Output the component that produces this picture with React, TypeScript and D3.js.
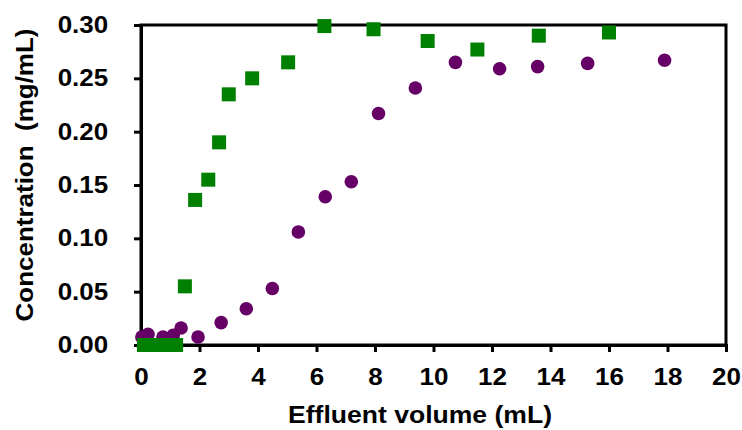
import React, { useRef, useEffect } from "react";
import * as d3 from "d3";

// purple circles
const circleX = [0.03, 0.24, 0.75, 1.1, 1.37, 1.95, 2.74, 3.6, 4.49, 5.38, 6.3, 7.19, 8.12, 9.38, 10.75, 12.26, 13.56, 15.27, 17.9];
const circleY = [0.0075, 0.01, 0.0075, 0.009, 0.016, 0.0075, 0.021, 0.034, 0.053, 0.106, 0.139, 0.153, 0.217, 0.241, 0.265, 0.259, 0.261, 0.264, 0.267];

// green squares
const squareX = [0.1, 0.3, 0.5, 0.7, 0.9, 1.1, 1.2, 1.5, 1.85, 2.3, 2.67, 3.0, 3.8, 5.03, 6.27, 7.95, 9.8, 11.5, 13.6, 16.0];
const squareY = [0, 0, 0, 0, 0, 0, 0, 0.055, 0.136, 0.155, 0.19, 0.235, 0.25, 0.265, 0.299, 0.296, 0.285, 0.277, 0.29, 0.293];

const xTicks = [0, 2, 4, 6, 8, 10, 12, 14, 16, 18, 20];
const yTicks = [0, 0.05, 0.1, 0.15, 0.2, 0.25, 0.3];

const W = 742;
const H = 430;
const margin = { top: 25, right: 16, bottom: 85, left: 141 };

const App = () => {
  const svgRef = useRef<SVGSVGElement>(null);

  useEffect(() => {
    document.body.style.margin = "0";
    const svg = d3.select(svgRef.current);
    svg.selectAll("*").remove();

    const x = d3.scaleLinear().domain([0, 20]).range([margin.left, W - margin.right]);
    const y = d3.scaleLinear().domain([0, 0.3]).range([H - margin.bottom, margin.top]);

    const font = "'Liberation Sans', Arial, sans-serif";
    const stretch = "scale(1.13,1)"; // text in the original is a bit wide

    // plot box
    svg.append("rect")
      .attr("x", x(0))
      .attr("y", y(0.3))
      .attr("width", x(20) - x(0))
      .attr("height", y(0) - y(0.3))
      .attr("fill", "none")
      .attr("stroke", "#000")
      .attr("stroke-width", 3);

    const xAxis = svg.append("g")
      .attr("transform", `translate(0,${y(0)})`)
      .call(d3.axisBottom(x).tickValues(xTicks).tickSize(7).tickPadding(17).tickFormat(d3.format("d")));
    xAxis.select(".domain").attr("stroke-width", 3);
    xAxis.selectAll(".tick line").attr("stroke-width", 3);
    xAxis.selectAll("text")
      .attr("font-size", 23).attr("font-weight", "bold").attr("font-family", font)
      .attr("fill", "#000").attr("transform", stretch);

    const yAxis = svg.append("g")
      .attr("transform", `translate(${x(0)},0)`)
      .call(d3.axisLeft(y).tickValues(yTicks).tickSize(7).tickPadding(22).tickFormat(d3.format(".2f")));
    yAxis.select(".domain").attr("stroke-width", 3);
    yAxis.selectAll(".tick line").attr("stroke-width", 3);
    yAxis.selectAll("text")
      .attr("font-size", 23).attr("font-weight", "bold").attr("font-family", font)
      .attr("fill", "#000").attr("transform", stretch);

    svg.append("g")
      .selectAll("circle")
      .data(circleX.map((v, i) => [v, circleY[i]]))
      .join("circle")
      .attr("cx", d => x(d[0]))
      .attr("cy", d => y(d[1]))
      .attr("r", 6.8)
      .attr("fill", "#660066");

    const s = 14;
    svg.append("g")
      .selectAll("rect")
      .data(squareX.map((v, i) => [v, squareY[i]]))
      .join("rect")
      .attr("x", d => x(d[0]) - s / 2)
      .attr("y", d => y(d[1]) - s / 2)
      .attr("width", s)
      .attr("height", s)
      .attr("fill", "#008000");

    svg.append("text")
      .attr("transform", `translate(420,423) ${stretch}`)
      .attr("text-anchor", "middle")
      .attr("font-size", 23.5)
      .attr("font-weight", "bold")
      .attr("font-family", font)
      .text("Effluent volume (mL)");

    svg.append("text")
      .attr("transform", `translate(33,175) rotate(-90) ${stretch}`)
      .attr("text-anchor", "middle")
      .attr("font-size", 23)
      .attr("font-weight", "bold")
      .attr("font-family", font)
      .style("white-space", "pre")
      .text("Concentration  (mg/mL)");
  }, []);

  return <svg ref={svgRef} width={W} height={H} style={{ display: "block" }} />;
};

export default App;
